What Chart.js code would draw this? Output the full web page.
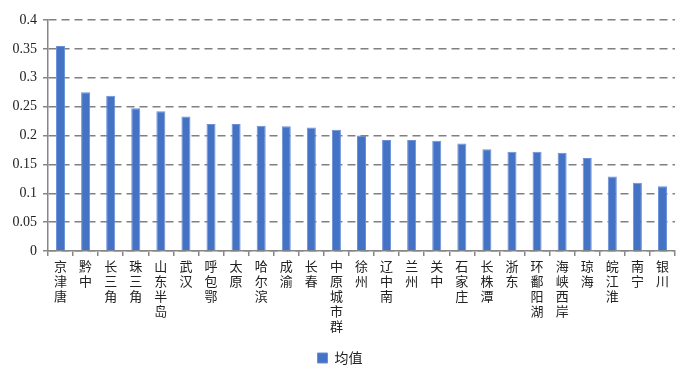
<!DOCTYPE html>
<html>
<head>
<meta charset="utf-8">
<script src="https://cdn.jsdelivr.net/npm/chart.js@4.4.1/dist/chart.umd.min.js"></script>
<style>
html,body{margin:0;padding:0;background:#fff;}
#wrap{width:700px;height:385px;position:relative;}
</style>
</head>
<body>
<div id="wrap"><canvas id="c" width="700" height="385"></canvas></div>
<script>
const categories = ['京津唐','黔中','长三角','珠三角','山东半岛','武汉','呼包鄂','太原','哈尔滨','成渝','长春','中原城市群','徐州','辽中南','兰州','关中','石家庄','长株潭','浙东','环鄱阳湖','海峡西岸','琼海','皖江淮','南宁','银川'];
const meanValues = [0.355,0.275,0.269,0.247,0.242,0.233,0.220,0.220,0.217,0.216,0.214,0.210,0.200,0.192,0.192,0.191,0.186,0.176,0.172,0.172,0.170,0.161,0.129,0.118,0.112];
const yTickLabels = ['0','0.05','0.1','0.15','0.2','0.25','0.3','0.35','0.4'];
const seriesName = '均值';

const cjk = '"Noto Sans CJK SC","Microsoft YaHei",sans-serif';
new Chart(document.getElementById('c'), {
  type: 'bar',
  data: {
    labels: categories.map(s => s.split('')),
    datasets: [{
      label: seriesName,
      data: meanValues,
      backgroundColor: '#4472C4',
      borderColor: '#6B90D8',
      borderWidth: 1,
      barPercentage: 0.72,
      categoryPercentage: 0.5
    }]
  },
  options: {
    responsive: false,
    animation: false,
    layout: { padding: { left: 5, right: 25, top: 20, bottom: 10 } },
    plugins: {
      tooltip: { enabled: false },
      legend: {
        position: 'bottom',
        labels: {
          boxWidth: 10, boxHeight: 10, padding: 10,
          color: '#222',
          font: { family: cjk, size: 14 }
        }
      }
    },
    scales: {
      x: {
        grid: { drawOnChartArea: false, offset: true, tickLength: 5, color: '#868686', lineWidth: 1.5 },
        border: { color: '#868686', width: 1.5 },
        ticks: {
          maxRotation: 0, minRotation: 0, autoSkip: false, padding: 3,
          color: '#222',
          font: { family: cjk, size: 13, lineHeight: '15px' }
        },
        afterFit: s => { s.height = 90; }
      },
      y: {
        min: 0, max: 0.4,
        grid: { color: '#808080', lineWidth: 1.5, tickLength: 5, tickBorderDash: [], tickColor: '#868686' },
        border: { color: '#868686', width: 1.5, dash: [8, 5] },
        ticks: {
          stepSize: 0.05, padding: 6, color: '#222',
          font: { family: '"Liberation Serif","Times New Roman",serif', size: 14 },
          callback: (v, i) => yTickLabels[i]
        },
        afterFit: s => { s.width = 43; }
      }
    }
  }
});
</script>
</body>
</html>
